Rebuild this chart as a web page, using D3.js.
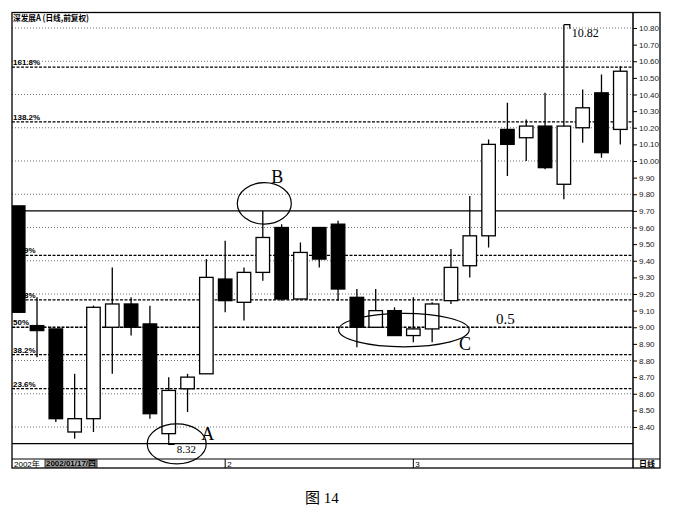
<!DOCTYPE html>
<html>
<head>
<meta charset="utf-8">
<title>深发展A 日线</title>
<script src="https://d3js.org/d3.v7.min.js"></script>
<style>
    body { margin: 0px; background: #fff; }
    .tick line { stroke: #000; }
    .tick text { fill: #222; font-size: 8px; font-family: "Liberation Sans", Arial, sans-serif; }
</style>
</head>
<body>
<script>
// daily candles, 2002-01-17 .. 2002-03-18 (front adjusted)
var dates = ["2002-01-17","2002-01-18","2002-01-21","2002-01-22","2002-01-23","2002-01-24","2002-01-25",
             "2002-01-28","2002-01-29","2002-01-30","2002-01-31","2002-02-01","2002-02-04","2002-02-05",
             "2002-02-06","2002-02-07","2002-02-08","2002-02-25","2002-02-26","2002-02-27","2002-02-28",
             "2002-03-01","2002-03-04","2002-03-05","2002-03-06","2002-03-07","2002-03-08","2002-03-11",
             "2002-03-12","2002-03-13","2002-03-14","2002-03-15","2002-03-18"];
var openP  = [9.73,9.01,8.99,8.37,8.45,9.00,9.14,9.02,8.36,8.63,8.72,9.29,9.15,9.33,9.60,9.17,9.60,
              9.62,9.18,9.00,9.10,8.95,8.99,9.16,9.37,9.55,10.19,10.14,10.21,9.86,10.20,10.41,10.19];
var highP  = [9.73,9.18,8.99,8.72,9.13,9.36,9.18,9.13,8.70,8.72,9.41,9.52,9.36,9.70,9.62,9.51,9.60,
              9.64,9.23,9.23,9.12,9.18,9.15,9.47,9.79,10.13,10.35,10.25,10.41,10.82,10.43,10.52,10.57];
var lowP   = [9.09,8.82,8.43,8.33,8.37,8.72,8.95,8.45,8.32,8.49,8.72,9.09,9.04,9.28,9.16,9.17,9.36,
              9.16,8.88,9.00,8.95,8.91,8.91,9.14,9.30,9.48,9.91,10.00,9.95,9.77,10.11,10.02,10.10];
var closeP = [9.09,8.98,8.45,8.45,9.12,9.14,9.00,8.48,8.62,8.70,9.30,9.16,9.33,9.54,9.17,9.45,9.41,
              9.23,9.00,9.10,8.95,8.99,9.14,9.36,9.55,10.10,10.10,10.21,9.96,10.21,10.32,10.05,10.54];

var yTicks = [8.4,8.5,8.6,8.7,8.8,8.9,9.0,9.1,9.2,9.3,9.4,9.5,9.6,9.7,9.8,9.9,
              10.0,10.1,10.2,10.3,10.4,10.5,10.6,10.7,10.8];
var gridLevels = [8.4,8.6,8.8,9.0,9.2,9.4,9.6,9.8,10.0,10.2,10.4,10.6,10.8];

// fibonacci from low A to high B
var fibLow = 8.30, fibHigh = 9.70;
var fibRatios = [0.236, 0.382, 0.5, 0.618, 0.809, 1.382, 1.618];
var fibLabels = ["23.6%", "38.2%", "50%", "61.8%", "80.9%", "138.2%", "161.8%"];

var monthStarts = ["2002-02-01", "2002-03-01"];
var monthLabels = ["2", "3"];

// circled spots: anchor date, price, offset, radii
var circles = [
    {name: "A", date: "2002-01-29", price: 8.298, dx: 8,   rx: 29.5, ry: 20,   tx: 31,  ty: -4},
    {name: "B", date: "2002-02-05", price: 9.745, dx: 1.5, rx: 27,   ry: 20.7, tx: 13,  ty: -20},
    {name: "C", date: "2002-02-28", price: 8.983, dx: 9.4, rx: 65.3, ry: 16.7, tx: 61,  ty: 20}
];

var W = 675, H = 511;
var L = 12, R = 633, T = 12.5, B = 459, OUT = 660, BOT = 468;

var svg = d3.select("body").append("svg").attr("width", W).attr("height", H);

var x = d3.scalePoint().domain(dates).range([18.2, 620.3]);
var y = d3.scaleLinear().domain([8.4, 10.8]).range([427, 28]);
var bw = 13.5;

svg.append("clipPath").attr("id", "plot")
    .append("rect").attr("x", L).attr("y", T).attr("width", R - L).attr("height", B - T);
var g = svg.append("g").attr("clip-path", "url(#plot)");

// light dotted grid
g.selectAll(".grid").data(gridLevels).enter().append("line")
    .attr("x1", L).attr("x2", R)
    .attr("y1", d => y(d)).attr("y2", d => y(d))
    .attr("stroke", "#333").attr("stroke-width", 0.7).attr("stroke-dasharray", "1,2");

// fib dashed lines + labels
var fibData = fibRatios.map((r, i) => ({r: r, label: fibLabels[i], price: fibLow + r * (fibHigh - fibLow)}));
g.selectAll(".fib").data(fibData).enter().append("line")
    .attr("x1", L).attr("x2", R)
    .attr("y1", d => y(d.price)).attr("y2", d => y(d.price))
    .attr("stroke", "#000").attr("stroke-width", 1.3).attr("stroke-dasharray", "3,1.5");
g.selectAll(".fibLabel").data(fibData).enter().append("text")
    .attr("x", L + 1).attr("y", d => y(d.price) - 2)
    .style("font-family", "'Liberation Sans', Arial, sans-serif")
    .style("font-size", "8px").style("font-weight", "bold")
    .text(d => d.label);

// 0% and 100% solid
g.selectAll(".fibBase").data([fibLow, fibHigh]).enter().append("line")
    .attr("x1", L).attr("x2", R)
    .attr("y1", d => y(d)).attr("y2", d => y(d))
    .attr("stroke", "#000").attr("stroke-width", 1.3);

// candles
var candles = dates.map((d, i) => ({date: d, o: openP[i], h: highP[i], l: lowP[i], c: closeP[i]}));
var cg = g.selectAll(".candle").data(candles).enter().append("g");
cg.append("line")
    .attr("x1", d => x(d.date)).attr("x2", d => x(d.date))
    .attr("y1", d => y(d.h)).attr("y2", d => y(d.l))
    .attr("stroke", "#000").attr("stroke-width", 1.3);
cg.append("rect")
    .attr("x", d => x(d.date) - bw / 2)
    .attr("width", bw)
    .attr("y", d => y(Math.max(d.o, d.c)))
    .attr("height", d => Math.max(2, Math.abs(y(d.o) - y(d.c))))
    .attr("fill", d => d.c < d.o ? "#000" : "#fff")
    .attr("stroke", "#000").attr("stroke-width", 1.3);

// highest / lowest markers
var hi = d3.maxIndex(candles, d => d.h), lo = d3.minIndex(candles, d => d.l);
var hx = x(candles[hi].date), hy = y(candles[hi].h);
var lx = x(candles[lo].date), ly = y(candles[lo].l);
svg.append("path").attr("d", "M" + hx + "," + hy + "h6v4")
    .attr("fill", "none").attr("stroke", "#000").attr("stroke-width", 1.2);
svg.append("text").attr("x", hx + 8).attr("y", hy + 12.6)
    .style("font-family", "'Liberation Serif', 'Times New Roman', serif").style("font-size", "12px")
    .text(candles[hi].h.toFixed(2));
svg.append("path").attr("d", "M" + lx + "," + ly + "v4h6")
    .attr("fill", "none").attr("stroke", "#000").attr("stroke-width", 1.2);
svg.append("text").attr("x", lx + 8).attr("y", ly + 12.7)
    .style("font-family", "'Liberation Serif', 'Times New Roman', serif").style("font-size", "11px")
    .text(candles[lo].l.toFixed(2));

// circles and letters
circles.forEach(function(c) {
    var cx = x(c.date) + c.dx, cy = y(c.price);
    svg.append("ellipse").attr("cx", cx).attr("cy", cy).attr("rx", c.rx).attr("ry", c.ry)
        .attr("fill", "none").attr("stroke", "#000").attr("stroke-width", 1.2);
    svg.append("text").attr("x", cx + c.tx).attr("y", cy + c.ty)
        .attr("text-anchor", "middle")
        .style("font-family", "'Liberation Serif', 'Times New Roman', serif").style("font-size", "18px")
        .text(c.name);
});
// 0.5 note on the 50% line
svg.append("text").attr("x", 496).attr("y", y(fibLow + 0.5 * (fibHigh - fibLow)) - 3)
    .style("font-family", "'Liberation Serif', 'Times New Roman', serif").style("font-size", "15px")
    .text("0.5");

// right axis
svg.append("g").attr("transform", "translate(" + R + ",0)")
    .call(d3.axisRight(y).tickValues(yTicks).tickSize(4).tickPadding(2).tickFormat(d3.format(".2f")))
    .call(a => a.select(".domain").remove());

// frame
svg.append("rect").attr("x", L).attr("y", T).attr("width", OUT - L).attr("height", BOT - T)
    .attr("fill", "none").attr("stroke", "#000").attr("stroke-width", 1.3);
svg.append("line").attr("x1", R).attr("x2", R).attr("y1", T).attr("y2", BOT)
    .attr("stroke", "#000").attr("stroke-width", 1.5);
svg.append("line").attr("x1", L).attr("x2", OUT).attr("y1", B).attr("y2", B)
    .attr("stroke", "#000").attr("stroke-width", 1.2);

// title
svg.append("text").attr("x", L + 1).attr("y", 20.5)
    .attr("textLength", 76).attr("lengthAdjust", "spacingAndGlyphs")
    .style("font-family", "'Noto Sans CJK SC', sans-serif").style("font-size", "8.5px").style("font-weight", "bold")
    .text("深发展A (日线,前复权)");

// date bar
svg.append("text").attr("x", L + 2).attr("y", 466.5)
    .style("font-family", "'Liberation Sans', 'Noto Sans CJK SC', sans-serif").style("font-size", "8px")
    .text("2002年");
svg.append("rect").attr("x", 45).attr("y", B + 0.8).attr("width", 52).attr("height", BOT - B - 1.6)
    .attr("fill", "#aaa").attr("stroke", "#000").attr("stroke-width", 0.8);
var d0 = dates[0].split("-");
svg.append("text").attr("x", 46).attr("y", 466.3)
    .attr("textLength", 50).attr("lengthAdjust", "spacingAndGlyphs")
    .style("font-family", "'Liberation Sans', 'Noto Sans CJK SC', sans-serif").style("font-size", "7.5px")
    .style("font-weight", "bold")
    .text(d0[0] + "/" + d0[1] + "/" + d0[2] + "/四");
monthStarts.forEach(function(m, i) {
    svg.append("line").attr("x1", x(m)).attr("x2", x(m)).attr("y1", B).attr("y2", BOT)
        .attr("stroke", "#000").attr("stroke-width", 1);
    svg.append("text").attr("x", x(m) + 2).attr("y", 466.5)
        .style("font-family", "'Liberation Sans', sans-serif").style("font-size", "8px")
        .text(monthLabels[i]);
});
svg.append("text").attr("x", R + 6).attr("y", 467)
    .style("font-family", "'Noto Sans CJK SC', sans-serif").style("font-size", "8px").style("font-weight", "bold")
    .text("日线");

// caption
svg.append("text").attr("x", 305).attr("y", 503)
    .style("font-family", "'Liberation Serif', 'Noto Sans CJK SC', serif").style("font-size", "15px")
    .text("图 14");
</script>
</body>
</html>
